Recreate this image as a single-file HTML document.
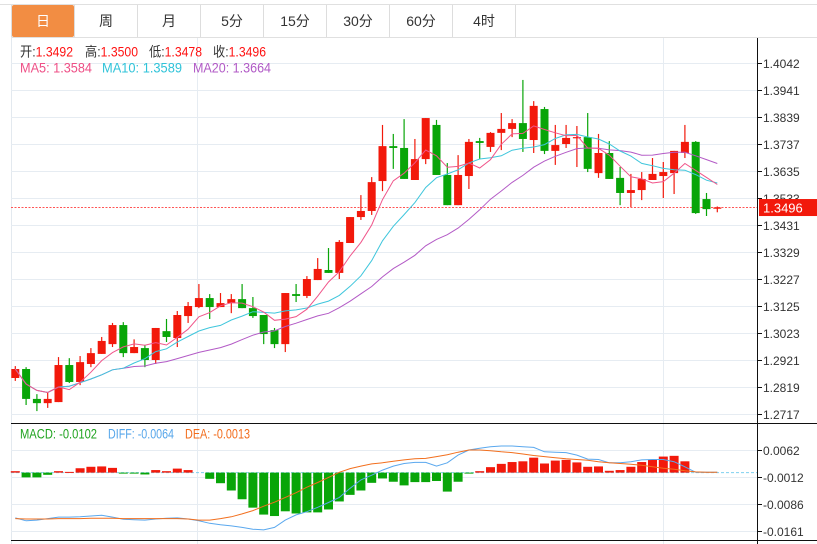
<!DOCTYPE html>
<html><head><meta charset="utf-8">
<style>
html,body{margin:0;padding:0;background:#fff;}
svg{display:block;font-family:"Liberation Sans","Noto Sans CJK SC",sans-serif;}
</style></head>
<body>
<svg id="chart" width="817" height="544" viewBox="0 0 817 544" xmlns="http://www.w3.org/2000/svg">
  <g id="tabs"></g>
  <g id="grid"></g>
  <g id="info" font-size="13.5">
    <text x="20" y="56.5" fill="#333" textLength="53" lengthAdjust="spacingAndGlyphs">开:<tspan fill="#f11">1.3492</tspan></text>
    <text x="85" y="56.5" fill="#333" textLength="53" lengthAdjust="spacingAndGlyphs">高:<tspan fill="#f11">1.3500</tspan></text>
    <text x="149" y="56.5" fill="#333" textLength="53" lengthAdjust="spacingAndGlyphs">低:<tspan fill="#f11">1.3478</tspan></text>
    <text x="213" y="56.5" fill="#333" textLength="53" lengthAdjust="spacingAndGlyphs">收:<tspan fill="#f11">1.3496</tspan></text>
    <text x="20" y="72.5" fill="#ee4f86" textLength="72" lengthAdjust="spacingAndGlyphs">MA5: 1.3584</text>
    <text x="102" y="72.5" fill="#2fc3d9" textLength="80" lengthAdjust="spacingAndGlyphs">MA10: 1.3589</text>
    <text x="193" y="72.5" fill="#b15ac6" textLength="78" lengthAdjust="spacingAndGlyphs">MA20: 1.3664</text>
    <text x="20" y="438.5" fill="#1ea31e" textLength="77" lengthAdjust="spacingAndGlyphs">MACD: -0.0102</text>
    <text x="108" y="438.5" fill="#56a6ea" textLength="66" lengthAdjust="spacingAndGlyphs">DIFF: -0.0064</text>
    <text x="185" y="438.5" fill="#f26c1c" textLength="65" lengthAdjust="spacingAndGlyphs">DEA: -0.0013</text>
  </g>
  <g id="candles"></g>
  <g id="mas"></g>
  <g id="macd"></g>
  <g id="axis"></g>
</svg>
<script>
const tabLabels = ["日","周","月","5分","15分","30分","60分","4时"];
const opens  = [1.2852,1.2886,1.2773,1.2757,1.2761,1.2901,1.2837,1.2905,1.2943,1.2980,1.3052,1.2946,1.2965,1.2920,1.3029,1.3003,1.3086,1.3120,1.3154,1.3120,1.3135,1.3150,1.3116,1.3090,1.3033,1.2980,1.3169,1.3162,1.3222,1.3260,1.3249,1.3362,1.3460,1.3483,1.3596,1.3728,1.3721,1.3600,1.3679,1.3808,1.3619,1.3505,1.3615,1.3747,1.3725,1.3778,1.3793,1.3815,1.3751,1.3868,1.3710,1.3736,1.3759,1.3762,1.3626,1.3702,1.3608,1.3551,1.3562,1.3600,1.3615,1.3626,1.3702,1.3744,1.3528,1.3492];
const highs  = [1.2897,1.2893,1.2791,1.2799,1.2931,1.2927,1.2935,1.2965,1.3007,1.3060,1.3063,1.2998,1.2977,1.3041,1.3075,1.3105,1.3139,1.3207,1.3169,1.3173,1.3169,1.3207,1.3158,1.3090,1.3041,1.3173,1.3207,1.3237,1.3305,1.3343,1.3373,1.3460,1.3543,1.3611,1.3808,1.3774,1.3830,1.3755,1.3834,1.3827,1.3664,1.3694,1.3755,1.3759,1.3781,1.3853,1.3830,1.3978,1.3898,1.3876,1.3808,1.3808,1.3804,1.3853,1.3774,1.3747,1.3649,1.3623,1.3630,1.3683,1.3668,1.3710,1.3808,1.3747,1.3551,1.3500];
const lows   = [1.2841,1.2750,1.2727,1.2739,1.2761,1.2833,1.2825,1.2893,1.2943,1.2969,1.2931,1.2946,1.2893,1.2905,1.2988,1.2969,1.3060,1.3116,1.3075,1.3120,1.3097,1.3116,1.3079,1.2980,1.2965,1.2950,1.3139,1.3154,1.3222,1.3249,1.3226,1.3362,1.3449,1.3468,1.3558,1.3642,1.3604,1.3600,1.3660,1.3619,1.3505,1.3505,1.3566,1.3679,1.3706,1.3713,1.3762,1.3706,1.3702,1.3698,1.3657,1.3721,1.3649,1.3630,1.3608,1.3604,1.3505,1.3498,1.3524,1.3600,1.3532,1.3547,1.3683,1.3472,1.3464,1.3478];
const closes = [1.2886,1.2773,1.2757,1.2773,1.2901,1.2837,1.2912,1.2946,1.2992,1.3052,1.2946,1.2969,1.2920,1.3041,1.3007,1.3090,1.3124,1.3154,1.3120,1.3135,1.3150,1.3116,1.3086,1.3018,1.2980,1.3173,1.3162,1.3226,1.3264,1.3249,1.3366,1.3460,1.3483,1.3592,1.3728,1.3721,1.3604,1.3679,1.3834,1.3619,1.3505,1.3619,1.3744,1.3740,1.3778,1.3793,1.3815,1.3755,1.3880,1.3710,1.3732,1.3759,1.3762,1.3642,1.3702,1.3604,1.3551,1.3562,1.3604,1.3623,1.3630,1.3710,1.3744,1.3475,1.3490,1.3496];
const macdHist = [0.0004,-0.0013,-0.0013,-0.0006,0.0004,0.0002,0.0012,0.0016,0.0017,0.0013,-0.0002,-0.0002,-0.0005,0.0007,0.0004,0.0011,0.0007,0.0000,-0.0017,-0.0029,-0.0049,-0.0073,-0.0096,-0.0115,-0.0119,-0.0106,-0.0112,-0.0109,-0.0109,-0.0101,-0.0079,-0.0061,-0.0049,-0.0028,-0.0016,-0.0025,-0.0035,-0.0026,-0.0026,-0.0023,-0.0052,-0.0025,-0.0002,0.0004,0.0015,0.0024,0.0029,0.0031,0.0041,0.0025,0.0033,0.0035,0.0028,0.0016,0.0017,0.0005,0.0007,0.0016,0.0029,0.0036,0.0044,0.0046,0.0031,0.0000,0.0000,0.0000];
const diffVals = [-0.0124,-0.0132,-0.0130,-0.0126,-0.0122,-0.0122,-0.0121,-0.0119,-0.0117,-0.0122,-0.0128,-0.0129,-0.0130,-0.0127,-0.0125,-0.0124,-0.0127,-0.0132,-0.0139,-0.0143,-0.0146,-0.0150,-0.0155,-0.0157,-0.0150,-0.0130,-0.0116,-0.0107,-0.0095,-0.0082,-0.0068,-0.0043,-0.0020,-0.0007,0.0007,0.0018,0.0025,0.0028,0.0028,0.0018,0.0027,0.0048,0.0062,0.0067,0.0071,0.0073,0.0073,0.0071,0.0069,0.0057,0.0056,0.0055,0.0048,0.0037,0.0036,0.0027,0.0027,0.0030,0.0035,0.0036,0.0036,0.0030,0.0016,0.0001,0.0001,0.0001];
const deaVals = [-0.0126,-0.0127,-0.0127,-0.0127,-0.0126,-0.0126,-0.0126,-0.0125,-0.0125,-0.0125,-0.0126,-0.0126,-0.0126,-0.0126,-0.0126,-0.0126,-0.0127,-0.0130,-0.0130,-0.0126,-0.0121,-0.0113,-0.0104,-0.0092,-0.0081,-0.0068,-0.0055,-0.0040,-0.0027,-0.0013,0.0001,0.0011,0.0018,0.0024,0.0027,0.0031,0.0035,0.0038,0.0039,0.0044,0.0049,0.0056,0.0062,0.0062,0.0060,0.0057,0.0055,0.0051,0.0047,0.0044,0.0041,0.0038,0.0036,0.0034,0.0030,0.0027,0.0025,0.0023,0.0020,0.0016,0.0012,0.0009,0.0005,0.0002,0.0001,0.0001];
const priceTicks = ["1.4042","1.3941","1.3839","1.3737","1.3635","1.3533","1.3431","1.3329","1.3227","1.3125","1.3023","1.2921","1.2819","1.2717"];
const macdTicks = ["0.0062","-0.0012","-0.0086","-0.0161"];
const lastPrice = 1.3496;

const NS = "http://www.w3.org/2000/svg";
function mk(tag, attrs, parent){const e=document.createElementNS(NS,tag);for(const k in attrs)e.setAttribute(k,attrs[k]);parent.appendChild(e);return e;}
const L=11, R=757;
const xS = i => 15.3 + i*10.8;
const yP = p => 63 + (1.4042 - p)/0.0102*27;
const yM = v => 477 + (-0.0012 - v)/0.0074*27;
const RED="#f2190b", GREEN="#08a508";

// tabs
const tabs=document.getElementById('tabs');
const tl = mk('line',{x1:0,y1:4.5,x2:817,y2:4.5,stroke:"#e0e0e0"},tabs);


const bl = mk('line',{x1:11,y1:37.5,x2:817,y2:37.5,stroke:"#e0e0e0"},tabs);


tabLabels.forEach((t,i)=>{
  const x=12+i*63;
  const g=mk('g',{},tabs);
  
  
  if(i===0) mk('rect',{x:x,y:5,width:62,height:32,rx:2,fill:"#f28d43"},g);
  mk('line',{x1:x+62.5,y1:5,x2:x+62.5,y2:37,stroke:"#ddd"},g);
  const tx=mk('text',{x:x+31,y:26,'font-size':14,'text-anchor':'middle',fill:i===0?"#fff":"#333"},g);
  tx.textContent=t;
});
mk('line',{x1:11.5,y1:5,x2:11.5,y2:37,stroke:"#ddd"},tabs);

// grid
const grid=document.getElementById('grid');
mk('line',{x1:11.5,y1:37,x2:11.5,y2:544,stroke:"#e3e9ef"},grid);
priceTicks.forEach(t=>{const y=Math.round(yP(+t))+0.5;mk('line',{x1:L,y1:y,x2:R,y2:y,stroke:"#e6ecf2"},grid);});
macdTicks.forEach(t=>{const y=Math.round(yM(+t))+0.5;mk('line',{x1:L,y1:y,x2:R,y2:y,stroke:"#e6ecf2"},grid);});
[197.5,663.5].forEach(x=>mk('line',{x1:x,y1:38,x2:x,y2:544,stroke:"#e6ecf2"},grid));
mk('line',{x1:L,y1:423.5,x2:817,y2:423.5,stroke:"#111"},grid);
mk('line',{x1:L,y1:540.5,x2:817,y2:540.5,stroke:"#111"},grid);
const pl=mk('line',{x1:L,y1:yP(lastPrice),x2:R,y2:yP(lastPrice),stroke:"#f55","stroke-dasharray":"2,1.5"},grid);



// candles
const cg=document.getElementById('candles');
opens.forEach((o,i)=>{
  const c=closes[i], up=c>=o, col=up?RED:GREEN, x=xS(i);
  const g=mk('g',{},cg);
  
  
  mk('line',{x1:x,y1:yP(highs[i]),x2:x,y2:yP(lows[i]),stroke:col,'stroke-width':1.2},g);
  const top=yP(Math.max(o,c)), bot=yP(Math.min(o,c));
  mk('rect',{x:x-4,y:top,width:8,height:Math.max(1.2,bot-top),fill:col},g);
});

// MAs
function ma(n){return closes.map((_,i)=>{const s=Math.max(0,i-n+1);let t=0;for(let j=s;j<=i;j++)t+=closes[j];return t/(i-s+1);});}
const mg=document.getElementById('mas');
[[20,"#b35ac6","ma20-line"],[10,"#3fc6dc","ma10-line"],[5,"#f0558a","ma5-line"]].forEach(([n,col,name])=>{
  const v=ma(n);
  const p=mk('polyline',{points:v.map((m,i)=>xS(i).toFixed(1)+","+yP(m).toFixed(1)).join(" "),fill:"none",stroke:col,'stroke-width':1},mg);
  
  
});

// MACD
const md=document.getElementById('macd');
const z=yM(0);
mk('line',{x1:L,y1:z,x2:R,y2:z,stroke:"#7fd0ef","stroke-dasharray":"3,2"},md);
macdHist.forEach((v,i)=>{
  if(v===0) return;
  const y1=yM(v), top=Math.min(y1,z), h=Math.abs(y1-z);
  const r=mk('rect',{x:xS(i)-4.5,y:top,width:9,height:Math.max(1,h),fill:v>0?RED:GREEN},md);
  
  
});
const dl=mk('polyline',{points:diffVals.map((v,i)=>xS(i).toFixed(1)+","+yM(v).toFixed(1)).join(" "),fill:"none",stroke:"#5aa8ee",'stroke-width':1},md);


const el=mk('polyline',{points:deaVals.map((v,i)=>xS(i).toFixed(1)+","+yM(v).toFixed(1)).join(" "),fill:"none",stroke:"#f26f1e",'stroke-width':1},md);



// axis
const ax=document.getElementById('axis');
mk('line',{x1:R+0.5,y1:38,x2:R+0.5,y2:544,stroke:"#111"},ax);
function tick(y,label){
  mk('line',{x1:R,y1:y,x2:R+5,y2:y,stroke:"#111"},ax);
  const t=mk('text',{x:R+6,y:y+4.5,'font-size':12,fill:"#333"},ax);
  t.textContent=label;
  
  
}
priceTicks.forEach(t=>tick(Math.round(yP(+t))+0.5,t));
macdTicks.forEach(t=>tick(Math.round(yM(+t))+0.5,t));
const yl=yP(lastPrice);
const bx=mk('g',{},ax);


mk('rect',{x:759,y:yl-8.5,width:58,height:17,fill:"#f2190b"},bx);
const lt=mk('text',{x:763,y:yl+5,'font-size':13,fill:"#fff"},bx);
lt.textContent=lastPrice.toFixed(4);
</script>
</body></html>
